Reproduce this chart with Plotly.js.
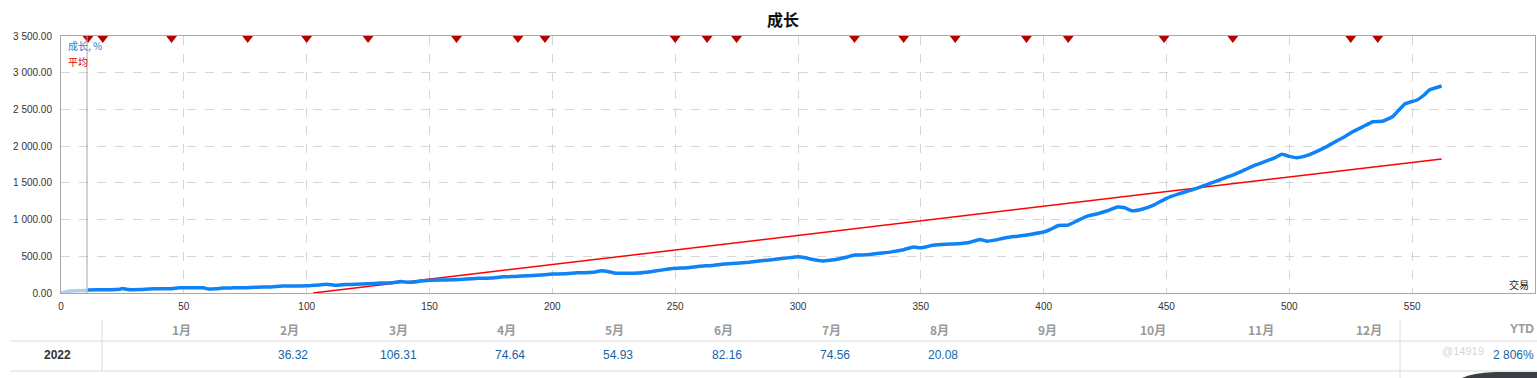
<!DOCTYPE html>
<html>
<head>
<meta charset="utf-8">
<script src="https://cdn.plot.ly/plotly-3.0.1.min.js"></script>
<style>
html,body{margin:0;padding:0;background:#fff;}
#chart{width:1537px;height:378px;}
</style>
</head>
<body>
<div id="chart"></div>
<script>
// ---------- data ----------
const preTrades = [0, 3, 6, 11];
const preGrowth = [0, 25, 32, 35];

const trades = [11,15,20,24,25,27,32,36,40,45,48,55,58,60,63,66,70,75,80,85,90,95,100,105,108,112,116,120,125,130,135,138,142,146,150,155,160,165,170,175,180,185,190,195,200,205,210,215,218,220,223,226,230,235,240,245,250,255,260,265,270,275,280,285,290,295,300,303,306,310,313,316,320,323,328,333,338,343,347,350,355,360,365,370,374,377,380,385,390,395,400,403,406,410,414,418,422,426,430,433,436,440,445,450,455,460,465,470,474,478,482,486,490,494,497,500,503,507,511,515,518,523,526,530,534,538,542,547,552,555,557,562];
const growth = [40,45,45,50,62,48,47,55,57,58,70,72,70,55,58,68,70,72,80,82,95,95,98,110,120,105,115,118,125,135,140,155,145,160,175,178,180,190,200,205,220,225,235,245,258,262,275,280,290,304,290,270,268,272,290,315,336,345,365,375,395,405,420,440,455,475,494,480,455,436,445,460,490,517,520,540,560,590,625,615,650,665,670,690,730,705,720,755,775,800,830,870,920,925,990,1050,1080,1120,1170,1160,1120,1140,1200,1290,1350,1400,1460,1520,1570,1620,1680,1740,1790,1840,1889,1860,1843,1870,1925,1990,2047,2138,2200,2265,2333,2340,2400,2574,2629,2700,2765,2819];

const avgTrades = [102.6, 562];
const avgGrowth = [0, 1826];

const markerTrades = [11,17,45,76,100,125,161,186,197,250,263,275,323,343,364,393,410,449,477,525,536];
const startTrade = 10.6;

const yTickVals = [0,500,1000,1500,2000,2500,3000,3500];
const yTickText = ['0.00','500.00','1 000.00','1 500.00','2 000.00','2 500.00','3 000.00','3 500.00'];
const xTickVals = [0,50,100,150,200,250,300,350,400,450,500,550,600];

const months = ['1月','2月','3月','4月','5月','6月','7月','8月','9月','10月','11月','12月'];
const monthValues = ['', '36.32', '106.31', '74.64', '54.93', '82.16', '74.56', '20.08', '', '', '', ''];
const yearLabel = '2022';
const ytdLabel = 'YTD';
const ytdValue = '2 806%';

// ---------- geometry helpers (pixel -> paper) ----------
const W = 1537, H = 378;
const L = 61, R = 1535, T = 36, B = 293;
const px = x => (x - L) / (R - L);
const py = y => (B - y) / (B - T);

const blue = '#0f83f5';
const red = '#ff0000';
const fontLatin = 'Liberation Sans, Arial, sans-serif';
const fontCJK = 'Noto Sans CJK SC, Liberation Sans, sans-serif';

const traces = [
  {x: preTrades, y: preGrowth, mode:'lines', line:{color:'#b3cdee', width:3.5}, hoverinfo:'skip'},
  {x: avgTrades, y: avgGrowth, mode:'lines', line:{color:red, width:1.5}, hoverinfo:'skip'},
  {x: trades, y: growth, mode:'lines', line:{color:blue, width:3.5, shape:'spline', smoothing:0.4}, hoverinfo:'skip'},
  {x: markerTrades, y: markerTrades.map(() => 3472), mode:'markers', cliponaxis:false,
   marker:{symbol:'triangle-down', size:10, color:'#b50000', line:{width:0}}, hoverinfo:'skip'}
];

const shapes = [
  {type:'line', xref:'x', yref:'y', x0:startTrade, x1:startTrade, y0:0, y1:3500, line:{color:'#a8a8a8', width:1}},
  // table lines
  {type:'line', xref:'paper', yref:'paper', x0:px(10), x1:px(1537), y0:py(341), y1:py(341), line:{color:'#dcdcdc', width:1}},
  {type:'line', xref:'paper', yref:'paper', x0:px(10), x1:px(1537), y0:py(371), y1:py(371), line:{color:'#dcdcdc', width:1}},
  {type:'line', xref:'paper', yref:'paper', x0:px(102), x1:px(102), y0:py(320), y1:py(371), line:{color:'#dcdcdc', width:1}},
  {type:'line', xref:'paper', yref:'paper', x0:px(1400), x1:px(1400), y0:py(320), y1:py(378), line:{color:'#dcdcdc', width:1}},
  // dark ui element bottom-right
  {type:'path', xref:'paper', yref:'paper',
   path:`M${px(1460)},${py(379)} Q${px(1470)},${py(373)} ${px(1495)},${py(372)} L${px(1537)},${py(372)} L${px(1537)},${py(379)} Z`,
   fillcolor:'#3c3f45', line:{width:0}}
];

const annotations = [
  {xref:'paper', yref:'paper', x:px(783), y:py(19), text:'<b>成长</b>', showarrow:false,
   font:{family:fontCJK, size:16, color:'#111'}, xanchor:'center', yanchor:'middle'},
  {xref:'paper', yref:'paper', x:px(66), y:py(46), text:'成长, %', showarrow:false,
   font:{family:fontCJK, size:10, color:'#2a7fd4'}, xanchor:'left', yanchor:'middle'},
  {xref:'paper', yref:'paper', x:px(66), y:py(61), text:'平均', showarrow:false,
   font:{family:fontCJK, size:10, color:'#e00000'}, xanchor:'left', yanchor:'middle'},
  {xref:'paper', yref:'paper', x:px(1531), y:py(284), text:'交易', showarrow:false,
   font:{family:fontCJK, size:10, color:'#222'}, xanchor:'right', yanchor:'middle'},
  {xref:'paper', yref:'paper', x:px(57), y:py(355), text:'<b>'+yearLabel+'</b>', showarrow:false,
   font:{family:fontLatin, size:12, color:'#333'}, xanchor:'center', yanchor:'middle'},
  {xref:'paper', yref:'paper', x:px(1536), y:py(329), text:'<b>'+ytdLabel+'</b>', showarrow:false,
   font:{family:fontLatin, size:12, color:'#999'}, xanchor:'right', yanchor:'middle'},
  {xref:'paper', yref:'paper', x:px(1536), y:py(355), text:ytdValue, showarrow:false,
   font:{family:fontLatin, size:12, color:'#1565a8'}, xanchor:'right', yanchor:'middle'},
  {xref:'paper', yref:'paper', x:px(1440), y:py(351), text:'@14919', showarrow:false, opacity:0.35,
   font:{family:fontLatin, size:11, color:'#888'}, xanchor:'left', yanchor:'middle'}
];
months.forEach((m, i) => {
  const right = 193 + i * 108.3;
  annotations.push({xref:'paper', yref:'paper', x:px(right), y:py(329), text:'<b>'+m+'</b>', showarrow:false,
    font:{family:fontCJK, size:12, color:'#999'}, xanchor:'right', yanchor:'middle'});
  if (monthValues[i]) {
    annotations.push({xref:'paper', yref:'paper', x:px(right + 9), y:py(355), text:monthValues[i], showarrow:false,
      font:{family:fontLatin, size:12, color:'#1565a8'}, xanchor:'right', yanchor:'middle'});
  }
});

const layout = {
  width: W, height: H,
  margin: {l: L, r: W - R, t: T, b: H - B, pad: 0},
  paper_bgcolor: '#fff', plot_bgcolor: '#fff',
  showlegend: false,
  xaxis: {range:[0,600], tickvals:xTickVals, ticks:'', showgrid:true, griddash:'dash', gridcolor:'#d6d6d6', gridwidth:1,
    zeroline:false, showline:true, linecolor:'#a8a8a8', linewidth:1, mirror:true,
    tickfont:{family:fontLatin, size:10, color:'#333'}, ticklabelstandoff:4},
  yaxis: {range:[0,3500], tickvals:yTickVals, ticktext:yTickText, ticks:'', showgrid:true, griddash:'dash', gridcolor:'#d6d6d6', gridwidth:1,
    zeroline:false, showline:true, linecolor:'#a8a8a8', linewidth:1, mirror:true,
    tickfont:{family:fontLatin, size:10, color:'#333'}, ticklabelstandoff:6},
  shapes: shapes,
  annotations: annotations
};

Plotly.newPlot('chart', traces, layout, {staticPlot:true, displayModeBar:false});
</script>
</body>
</html>
